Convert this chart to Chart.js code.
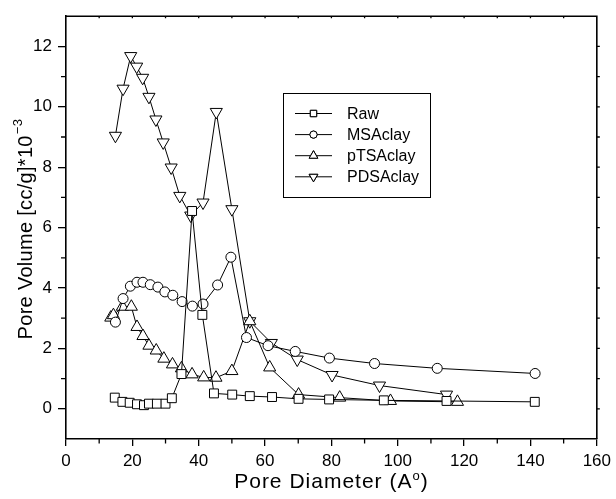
<!DOCTYPE html>
<html>
<head>
<meta charset="utf-8">
<script src="https://cdn.jsdelivr.net/npm/chart.js@4.4.1/dist/chart.umd.min.js"></script>
<style>
  html, body { margin: 0; padding: 0; background: #fff; }
  #wrap { width: 616px; height: 499px; }
</style>
</head>
<body>
<div id="wrap"><canvas id="poreChart"></canvas></div>
<script>
// series (pore diameter in A, pore volume in cc/g * 1e-3)
const seriesNames = ['Raw', 'MSAclay', 'pTSAclay', 'PDSAclay'];

const rawX = [14.7, 17.0, 19.2, 21.4, 23.5, 25.0, 27.4, 30.0, 31.9, 34.8, 38.0, 41.1, 44.6, 50.1, 55.4, 62.1, 70.1, 79.3, 95.8, 114.7, 141.3];
const rawY = [0.37, 0.23, 0.20, 0.15, 0.12, 0.17, 0.17, 0.17, 0.35, 1.15, 6.55, 3.11, 0.51, 0.47, 0.42, 0.39, 0.33, 0.31, 0.28, 0.26, 0.23];

const msaX = [14.9, 17.2, 19.4, 21.4, 23.2, 25.4, 27.7, 29.8, 32.2, 35.0, 38.1, 41.3, 45.7, 49.7, 54.4, 60.9, 69.1, 79.4, 93.0, 111.9, 141.4];
const msaY = [2.87, 3.65, 4.06, 4.19, 4.19, 4.11, 4.03, 3.87, 3.76, 3.55, 3.40, 3.47, 4.10, 5.02, 2.36, 2.09, 1.90, 1.68, 1.50, 1.34, 1.17];

const ptsaX = [13.5, 14.3, 17.0, 19.7, 21.4, 23.2, 25.0, 27.2, 29.5, 32.1, 34.8, 38.0, 41.5, 45.2, 50.0, 55.4, 61.4, 70.1, 82.5, 97.8, 118.0];
const ptsaY = [3.02, 3.10, 3.38, 3.38, 2.71, 2.41, 2.09, 1.93, 1.66, 1.47, 1.34, 1.14, 1.04, 1.03, 1.25, 2.90, 1.37, 0.47, 0.37, 0.26, 0.23];

const pdsaX = [14.9, 17.2, 19.5, 21.3, 23.1, 25.0, 27.1, 29.3, 31.7, 34.3, 37.6, 41.3, 45.3, 50.0, 55.4, 61.9, 69.7, 80.2, 94.5, 114.7];
const pdsaY = [9.04, 10.6, 11.68, 11.33, 10.96, 10.33, 9.58, 8.82, 7.99, 7.05, 6.40, 6.83, 9.83, 6.61, 2.90, 2.18, 1.63, 1.12, 0.77, 0.47];

const xTicks = [0, 20, 40, 60, 80, 100, 120, 140, 160];
const yTicks = [0, 2, 4, 6, 8, 10, 12];

const FONT = '"Liberation Sans", Arial, sans-serif';

function pts(xs, ys) {
  return xs.map((x, i) => ({ x: x, y: ys[i] }));
}

function makeSet(label, xs, ys, style, radius, rotation) {
  return {
    label: label,
    data: pts(xs, ys),
    borderColor: '#000',
    borderWidth: 1,
    backgroundColor: '#fff',
    pointStyle: style,
    pointRadius: radius,
    pointRotation: rotation,
    pointBorderColor: '#000',
    pointBackgroundColor: '#fff',
    pointBorderWidth: 1,
    tension: 0,
    fill: false,
    clip: false
  };
}

// frame on top/right plus the minor ticks
const framePlugin = {
  id: 'frame',
  afterDraw(chart) {
    const ctx = chart.ctx;
    const a = chart.chartArea;
    const xs = chart.scales.x, ys = chart.scales.y;
    ctx.save();
    ctx.strokeStyle = '#000';
    ctx.lineWidth = 1.6;
    ctx.beginPath();
    ctx.moveTo(a.left, a.top);
    ctx.lineTo(a.right, a.top);
    ctx.lineTo(a.right, a.bottom);
    ctx.stroke();

    ctx.lineWidth = 1.3;
    ctx.beginPath();
    for (let v = 10; v < 160; v += 20) {
      const px = xs.getPixelForValue(v);
      ctx.moveTo(px, a.bottom);
      ctx.lineTo(px, a.bottom + 4.5);
    }
    for (let v = 10; v < 160; v += 10) {
      const px = xs.getPixelForValue(v);
      ctx.moveTo(px, a.top);
      ctx.lineTo(px, a.top + 2);
    }
    for (let v = 1; v < 13; v += 2) {
      const py = ys.getPixelForValue(v);
      ctx.moveTo(a.left, py);
      ctx.lineTo(a.left - 5, py);
    }
    for (let v = 0; v < 13; v += 1) {
      const py = ys.getPixelForValue(v);
      ctx.moveTo(a.right, py);
      ctx.lineTo(a.right + 3, py);
    }
    ctx.stroke();
    ctx.restore();
  }
};

// axis titles with superscripts
const titlePlugin = {
  id: 'axisTitles',
  afterDraw(chart) {
    const ctx = chart.ctx;
    const a = chart.chartArea;
    ctx.save();
    ctx.fillStyle = '#000';
    ctx.textBaseline = 'alphabetic';
    ctx.textAlign = 'left';

    // x title
    const xMain = 'Pore Diameter (A';
    const xSup = 'o';
    const xEnd = ')';
    ctx.font = '21px ' + FONT;
    if ('letterSpacing' in ctx) ctx.letterSpacing = '1px';
    const w1 = ctx.measureText(xMain).width;
    const w3 = ctx.measureText(xEnd).width;
    ctx.font = '13px ' + FONT;
    const w2 = ctx.measureText(xSup).width;
    const total = w1 + w2 + w3;
    let sx = (a.left + a.right) / 2 - total / 2;
    const by = 488;
    ctx.font = '21px ' + FONT;
    ctx.fillText(xMain, sx, by);
    ctx.font = '13px ' + FONT;
    ctx.fillText(xSup, sx + w1, by - 8);
    ctx.font = '21px ' + FONT;
    ctx.fillText(xEnd, sx + w1 + w2, by);

    // y title (rotated)
    const yMain = 'Pore Volume [cc/g]*10';
    const ySup = '\u22123';
    ctx.font = '20px ' + FONT;
    if ('letterSpacing' in ctx) ctx.letterSpacing = '0.3px';
    const v1 = ctx.measureText(yMain).width;
    ctx.font = '13px ' + FONT;
    const v2 = ctx.measureText(ySup).width;
    ctx.translate(32, (a.top + a.bottom) / 2 + 2);
    ctx.rotate(-Math.PI / 2);
    const sy = -(v1 + v2) / 2;
    ctx.font = '20px ' + FONT;
    ctx.fillText(yMain, sy, 0);
    ctx.font = '13px ' + FONT;
    ctx.fillText(ySup, sy + v1 + 1, -10);
    ctx.restore();
  }
};

// boxed legend inside the plot
const legendPlugin = {
  id: 'boxLegend',
  afterDraw(chart) {
    const ctx = chart.ctx;
    const left = 283, top = 93, w = 147, h = 104;
    ctx.save();
    ctx.strokeStyle = '#000';
    ctx.lineWidth = 1;
    ctx.strokeRect(left + 0.5, top + 0.5, w, h);
    ctx.font = '16px ' + FONT;
    ctx.fillStyle = '#000';
    ctx.textBaseline = 'middle';
    chart.data.datasets.forEach((ds, i) => {
      const cy = 113.5 + i * 21.1;
      ctx.beginPath();
      ctx.moveTo(295, cy);
      ctx.lineTo(332, cy);
      ctx.lineWidth = 1;
      ctx.stroke();
      const r = ds.pointStyle === 'triangle' ? 5 : (ds.pointStyle === 'rect' ? 4.5 : 3.6);
      Chart.helpers.drawPoint(ctx, {
        pointStyle: ds.pointStyle,
        radius: r,
        rotation: ds.pointRotation,
        borderWidth: 1
      }, 313.5, cy);
      ctx.fillStyle = '#fff';
      ctx.fill();
      ctx.stroke();
      ctx.fillStyle = '#000';
      ctx.fillText(ds.label, 347, cy + 1);
    });
    ctx.restore();
  }
};

const chart = new Chart(document.getElementById('poreChart'), {
  type: 'line',
  data: {
    datasets: [
      makeSet(seriesNames[0], rawX, rawY, 'rect', 6.3, 0),
      makeSet(seriesNames[1], msaX, msaY, 'circle', 5, 0),
      makeSet(seriesNames[2], ptsaX, ptsaY, 'triangle', 7, 0),
      makeSet(seriesNames[3], pdsaX, pdsaY, 'triangle', 7, 180)
    ]
  },
  options: {
    responsive: true,
    maintainAspectRatio: false,
    animation: false,
    layout: { padding: { left: 0, top: 6, right: 19, bottom: 0 } },
    plugins: {
      legend: { display: false },
      tooltip: { enabled: false }
    },
    scales: {
      x: {
        type: 'linear',
        min: 0,
        max: 160,
        afterBuildTicks: s => { s.ticks = xTicks.map(v => ({ value: v })); },
        afterFit: s => { s.height = 60; },
        grid: { drawOnChartArea: false, drawTicks: true, tickLength: 7, color: '#000', lineWidth: 1.3 },
        border: { color: '#000', width: 1.6 },
        ticks: { color: '#000', font: { family: FONT, size: 17 }, padding: 5, maxRotation: 0 }
      },
      y: {
        type: 'linear',
        min: -1,
        max: 13,
        afterBuildTicks: s => { s.ticks = yTicks.map(v => ({ value: v })); },
        afterFit: s => { s.width = 66; },
        grid: { drawOnChartArea: false, drawTicks: true, tickLength: 8, color: '#000', lineWidth: 1.3 },
        border: { color: '#000', width: 1.6 },
        ticks: { color: '#000', font: { family: FONT, size: 17 }, padding: 6 }
      }
    }
  },
  plugins: [framePlugin, titlePlugin, legendPlugin]
});
</script>
</body>
</html>
